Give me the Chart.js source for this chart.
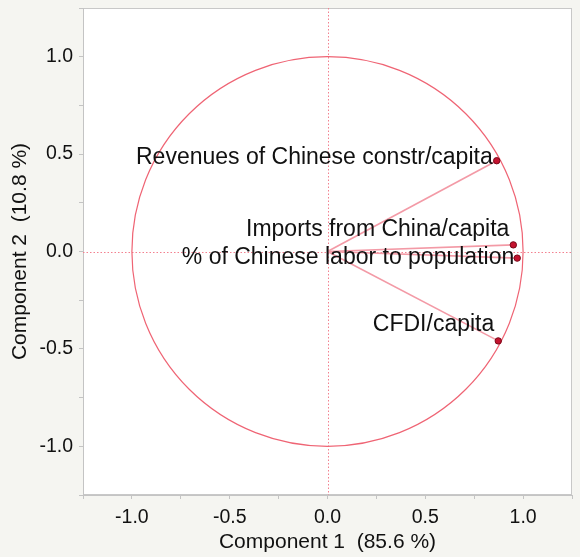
<!DOCTYPE html>
<html>
<head>
<meta charset="utf-8">
<script src="https://cdn.jsdelivr.net/npm/chart.js@4/dist/chart.umd.min.js"></script>
<style>
  html, body { margin: 0; padding: 0; background: #f5f5f1; }
  canvas { display: block; }
</style>
</head>
<body>
<canvas id="c" width="580" height="557"></canvas>
<script>
// Loading plot: principal component loadings of each variable
const variables = [
  'Revenues of Chinese constr/capita',
  'Imports from China/capita',
  '% of Chinese labor to population',
  'CFDI/capita'
];
const component1 = [0.865, 0.950, 0.970, 0.873];
const component2 = [0.466, 0.034, -0.034, -0.459];
const axisTitleX = 'Component 1  (85.6 %)';
const axisTitleY = 'Component 2  (10.8 %)';

// label placement relative to each loading point (pixels)
const labelShift = [[-4, -3], [-4, -15], [-3, 0], [-4, -16]];

const FONT = '"Liberation Sans", Arial, Helvetica, sans-serif';
const PINK = '#f39aa6';
const RED = '#ef6474';
const INK = '#111111';

const datasets = variables.map((name, i) => ({
  label: name,
  data: [{ x: 0, y: 0 }, { x: component1[i], y: component2[i] }],
  showLine: true,
  borderColor: PINK,
  borderWidth: 1.6,
  pointRadius: [0, 3.2],
  pointBackgroundColor: '#c4132f',
  pointBorderColor: '#7a0a1a',
  pointBorderWidth: 1,
  fill: false
}));

const framePlugin = {
  id: 'frame',
  beforeDraw(chart) {
    const { ctx, chartArea: a } = chart;
    ctx.save();
    ctx.fillStyle = '#ffffff';
    ctx.fillRect(a.left, a.top, a.right - a.left, a.bottom - a.top);
    ctx.strokeStyle = '#c8c8c8';
    ctx.lineWidth = 1;
    ctx.strokeRect(a.left + 0.5, a.top + 0.5, a.right - a.left - 1, a.bottom - a.top - 1);
    ctx.restore();
  },
  beforeDatasetsDraw(chart) {
    const { ctx, chartArea: a, scales: { x, y } } = chart;
    const x0 = x.getPixelForValue(0), y0 = y.getPixelForValue(0);
    ctx.save();
    // dotted zero reference lines
    ctx.strokeStyle = '#f3808f';
    ctx.lineWidth = 1;
    ctx.setLineDash([1.5, 2]);
    ctx.beginPath();
    ctx.moveTo(Math.round(x0) + 0.5, a.top);
    ctx.lineTo(Math.round(x0) + 0.5, a.bottom);
    ctx.moveTo(a.left, Math.round(y0) + 0.5);
    ctx.lineTo(a.right, Math.round(y0) + 0.5);
    ctx.stroke();
    ctx.setLineDash([]);
    // unit correlation circle
    const rx = x.getPixelForValue(1) - x0;
    const ry = y0 - y.getPixelForValue(1);
    ctx.strokeStyle = RED;
    ctx.lineWidth = 1.2;
    ctx.beginPath();
    ctx.ellipse(x0, y0, rx, ry, 0, 0, Math.PI * 2);
    ctx.stroke();
    ctx.restore();
  },
  afterDatasetsDraw(chart) {
    const { ctx, scales: { x, y } } = chart;
    ctx.save();
    ctx.font = '23px ' + FONT;
    ctx.fillStyle = INK;
    ctx.textAlign = 'right';
    ctx.textBaseline = 'middle';
    variables.forEach((name, i) => {
      const px = x.getPixelForValue(component1[i]) + labelShift[i][0];
      const py = y.getPixelForValue(component2[i]) + labelShift[i][1];
      ctx.fillText(name, px, py);
    });
    ctx.restore();
  }
};

function tickText(v) {
  const twice = v * 2;
  return Math.abs(twice - Math.round(twice)) < 1e-9 ? v.toFixed(1) : '';
}

const axisCommon = {
  type: 'linear',
  min: -1.25,
  max: 1.25,
  grid: { drawOnChartArea: false, drawTicks: true, tickLength: 4, color: '#c4c4c4' },
  border: { display: true, color: '#c4c4c4' },
  ticks: {
    stepSize: 0.25,
    autoSkip: false,
    includeBounds: true,
    callback: tickText,
    color: INK,
    font: { family: FONT, size: 19.5 }
  }
};

new Chart(document.getElementById('c'), {
  type: 'scatter',
  data: { datasets },
  options: {
    responsive: false,
    animation: false,
    layout: { padding: { top: 8, right: 8, left: 0, bottom: 0 } },
    plugins: { legend: { display: false }, tooltip: { enabled: false } },
    scales: {
      x: Object.assign({}, axisCommon, {
        ticks: Object.assign({}, axisCommon.ticks, { padding: 7 }),
        title: { display: true, text: axisTitleX, color: INK,
                 font: { family: FONT, size: 21 }, padding: { top: 0, bottom: 2 } },
        afterFit(s) { s.height = 62; s.paddingLeft = 0; s.paddingRight = 0; }
      }),
      y: Object.assign({}, axisCommon, {
        ticks: Object.assign({}, axisCommon.ticks, { padding: 6 }),
        title: { display: true, text: axisTitleY, color: INK,
                 font: { family: FONT, size: 21 }, padding: { top: 8, bottom: 0 } },
        afterFit(s) { s.width = 83; s.paddingTop = 0; s.paddingBottom = 0; }
      })
    }
  },
  plugins: [framePlugin]
});
</script>
</body>
</html>
